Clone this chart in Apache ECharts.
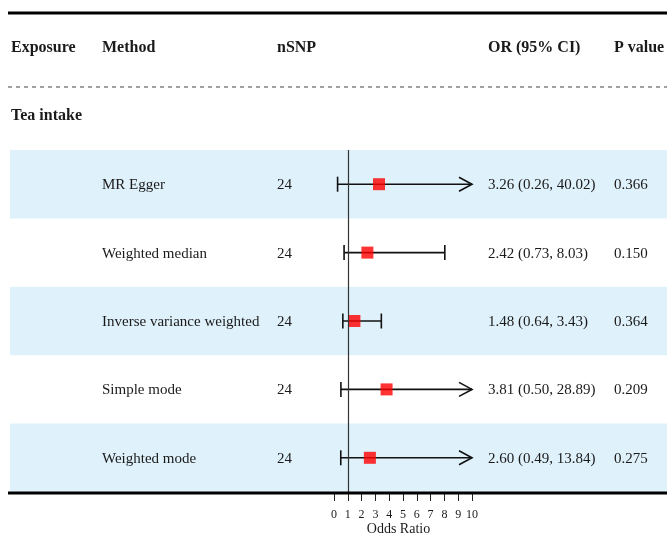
<!DOCTYPE html>
<html>
<head>
<meta charset="utf-8">
<script src="https://cdn.jsdelivr.net/npm/echarts@6/dist/echarts.min.js"></script>
<style>html,body{margin:0;padding:0;background:#fff}#c{width:667px;height:536px}</style>
</head>
<body>
<div id="c"></div>
<script>
const headers = ['Exposure', 'Method', 'nSNP', 'OR (95% CI)', 'P value'];
const exposure = 'Tea intake';
const methods = ['MR Egger', 'Weighted median', 'Inverse variance weighted', 'Simple mode', 'Weighted mode'];
const nSNP = [24, 24, 24, 24, 24];
const orVals = [3.26, 2.42, 1.48, 3.81, 2.60];
const ciLow = [0.26, 0.73, 0.64, 0.50, 0.49];
const ciHigh = [40.02, 8.03, 3.43, 28.89, 13.84];
const pVals = ['0.366', '0.150', '0.364', '0.209', '0.275'];
const xMin = 0, xMax = 10, xInterval = 1;
const refLine = 1;

const FONT = '"Liberation Serif", "Times New Roman", serif';
const TXT = '#1a1a1a';
const colX = [11, 102, 277, 488, 614];

const chart = echarts.init(document.getElementById('c'), null, {renderer: 'canvas'});

const ciText = orVals.map((v, i) => v.toFixed(2) + ' (' + ciLow[i].toFixed(2) + ', ' + ciHigh[i].toFixed(2) + ')');

const option = {
  animation: false,
  backgroundColor: '#fff',
  grid: {left: 334, right: 195, top: 150, bottom: 44, containLabel: false, outerBoundsMode: 'none'},
  xAxis: {
    type: 'value', min: xMin, max: xMax, interval: xInterval,
    axisLine: {show: false},
    axisTick: {show: true, length: 9, lineStyle: {color: '#222', width: 1}},
    axisLabel: {fontFamily: FONT, fontSize: 12, color: TXT, margin: 17},
    splitLine: {show: false},
    name: 'Odds Ratio', nameLocation: 'middle', nameGap: 30, nameMoveOverlap: false,
    nameTextStyle: {fontFamily: FONT, fontSize: 14, color: TXT, padding: [0, 9, 0, 0]}
  },
  yAxis: {
    type: 'category', data: methods, inverse: true,
    axisLine: {show: false}, axisTick: {show: false}, axisLabel: {show: false}, splitLine: {show: false}
  },
  graphic: [
    {type: 'rect', shape: {x: 8, y: 11.5, width: 659, height: 3}, style: {fill: '#000'}, z: 10},
    {type: 'line', shape: {x1: 8, y1: 87, x2: 667, y2: 87}, style: {stroke: '#444', lineWidth: 1, lineDash: [4, 4]}, z: 10},
    {type: 'rect', shape: {x: 8, y: 491.5, width: 659, height: 3}, style: {fill: '#000'}, z: 100},
  ].concat(headers.map((h, i) => ({
    type: 'text', x: colX[i], y: 48, z: 10,
    style: {text: h, font: 'bold 16px ' + FONT, fill: TXT, verticalAlign: 'middle'}
  }))).concat([{
    type: 'text', x: 11, y: 116, z: 10,
    style: {text: exposure, font: 'bold 16px ' + FONT, fill: TXT, verticalAlign: 'middle'}
  }]),
  series: [
    {
      type: 'custom', name: 'bands', z: 0, clip: false, silent: true,
      data: methods.map((m, i) => [0, i]).filter((d) => d[1] % 2 === 0),
      encode: {x: 0, y: 1},
      renderItem: function (params, api) {
        const c = api.coord([0, api.value(1)]);
        const h = api.size([0, 1])[1];
        return {type: 'rect', shape: {x: 10, y: c[1] - h / 2, width: 657, height: h}, style: {fill: '#dff1fb'}};
      },
      markLine: {
        silent: true, symbol: 'none', label: {show: false},
        lineStyle: {color: '#333', width: 1.2, type: 'solid'},
        data: [{xAxis: refLine}]
      }
    },
    {
      type: 'custom', name: 'ci', z: 3, clip: false, silent: true,
      data: methods.map((m, i) => [ciLow[i], ciHigh[i], i]),
      encode: {x: [0, 1], y: 2},
      renderItem: function (params, api) {
        const lo = api.value(0), hi = api.value(1), idx = api.value(2);
        const p0 = api.coord([lo, idx]);
        const p1 = api.coord([Math.min(hi, xMax), idx]);
        const y = p0[1];
        const st = {stroke: '#111', lineWidth: 1.6, fill: null};
        const els = [
          {type: 'line', shape: {x1: p0[0], y1: y, x2: p1[0], y2: y}, style: st},
          {type: 'line', shape: {x1: p0[0], y1: y - 7.5, x2: p0[0], y2: y + 7.5}, style: st}
        ];
        if (hi > xMax) {
          els.push({type: 'polyline', shape: {points: [[p1[0] - 13, y - 7], [p1[0], y], [p1[0] - 13, y + 7]]}, style: st});
        } else {
          els.push({type: 'line', shape: {x1: p1[0], y1: y - 7.5, x2: p1[0], y2: y + 7.5}, style: st});
        }
        return {type: 'group', children: els};
      }
    },
    {
      type: 'scatter', name: 'OR', z: 4, silent: true,
      symbol: 'rect', symbolSize: 12,
      itemStyle: {color: '#ff0000'},
      data: orVals.map((v, i) => [v, i])
    },
    {
      type: 'custom', name: 'text', z: 5, clip: false, silent: true,
      data: methods.map((m, i) => [0, i]),
      encode: {x: 0, y: 1},
      renderItem: function (params, api) {
        const idx = api.value(1);
        const y = api.coord([0, idx])[1] + 1;
        const vals = [methods[idx], String(nSNP[idx]), ciText[idx], pVals[idx]];
        const xs = [colX[1], colX[2], colX[3], colX[4]];
        return {
          type: 'group',
          children: vals.map((t, k) => ({
            type: 'text', x: xs[k], y: y,
            style: {text: t, font: '15px ' + FONT, fill: TXT, verticalAlign: 'middle'}
          }))
        };
      }
    }
  ]
};
chart.setOption(option);
</script>
</body>
</html>
